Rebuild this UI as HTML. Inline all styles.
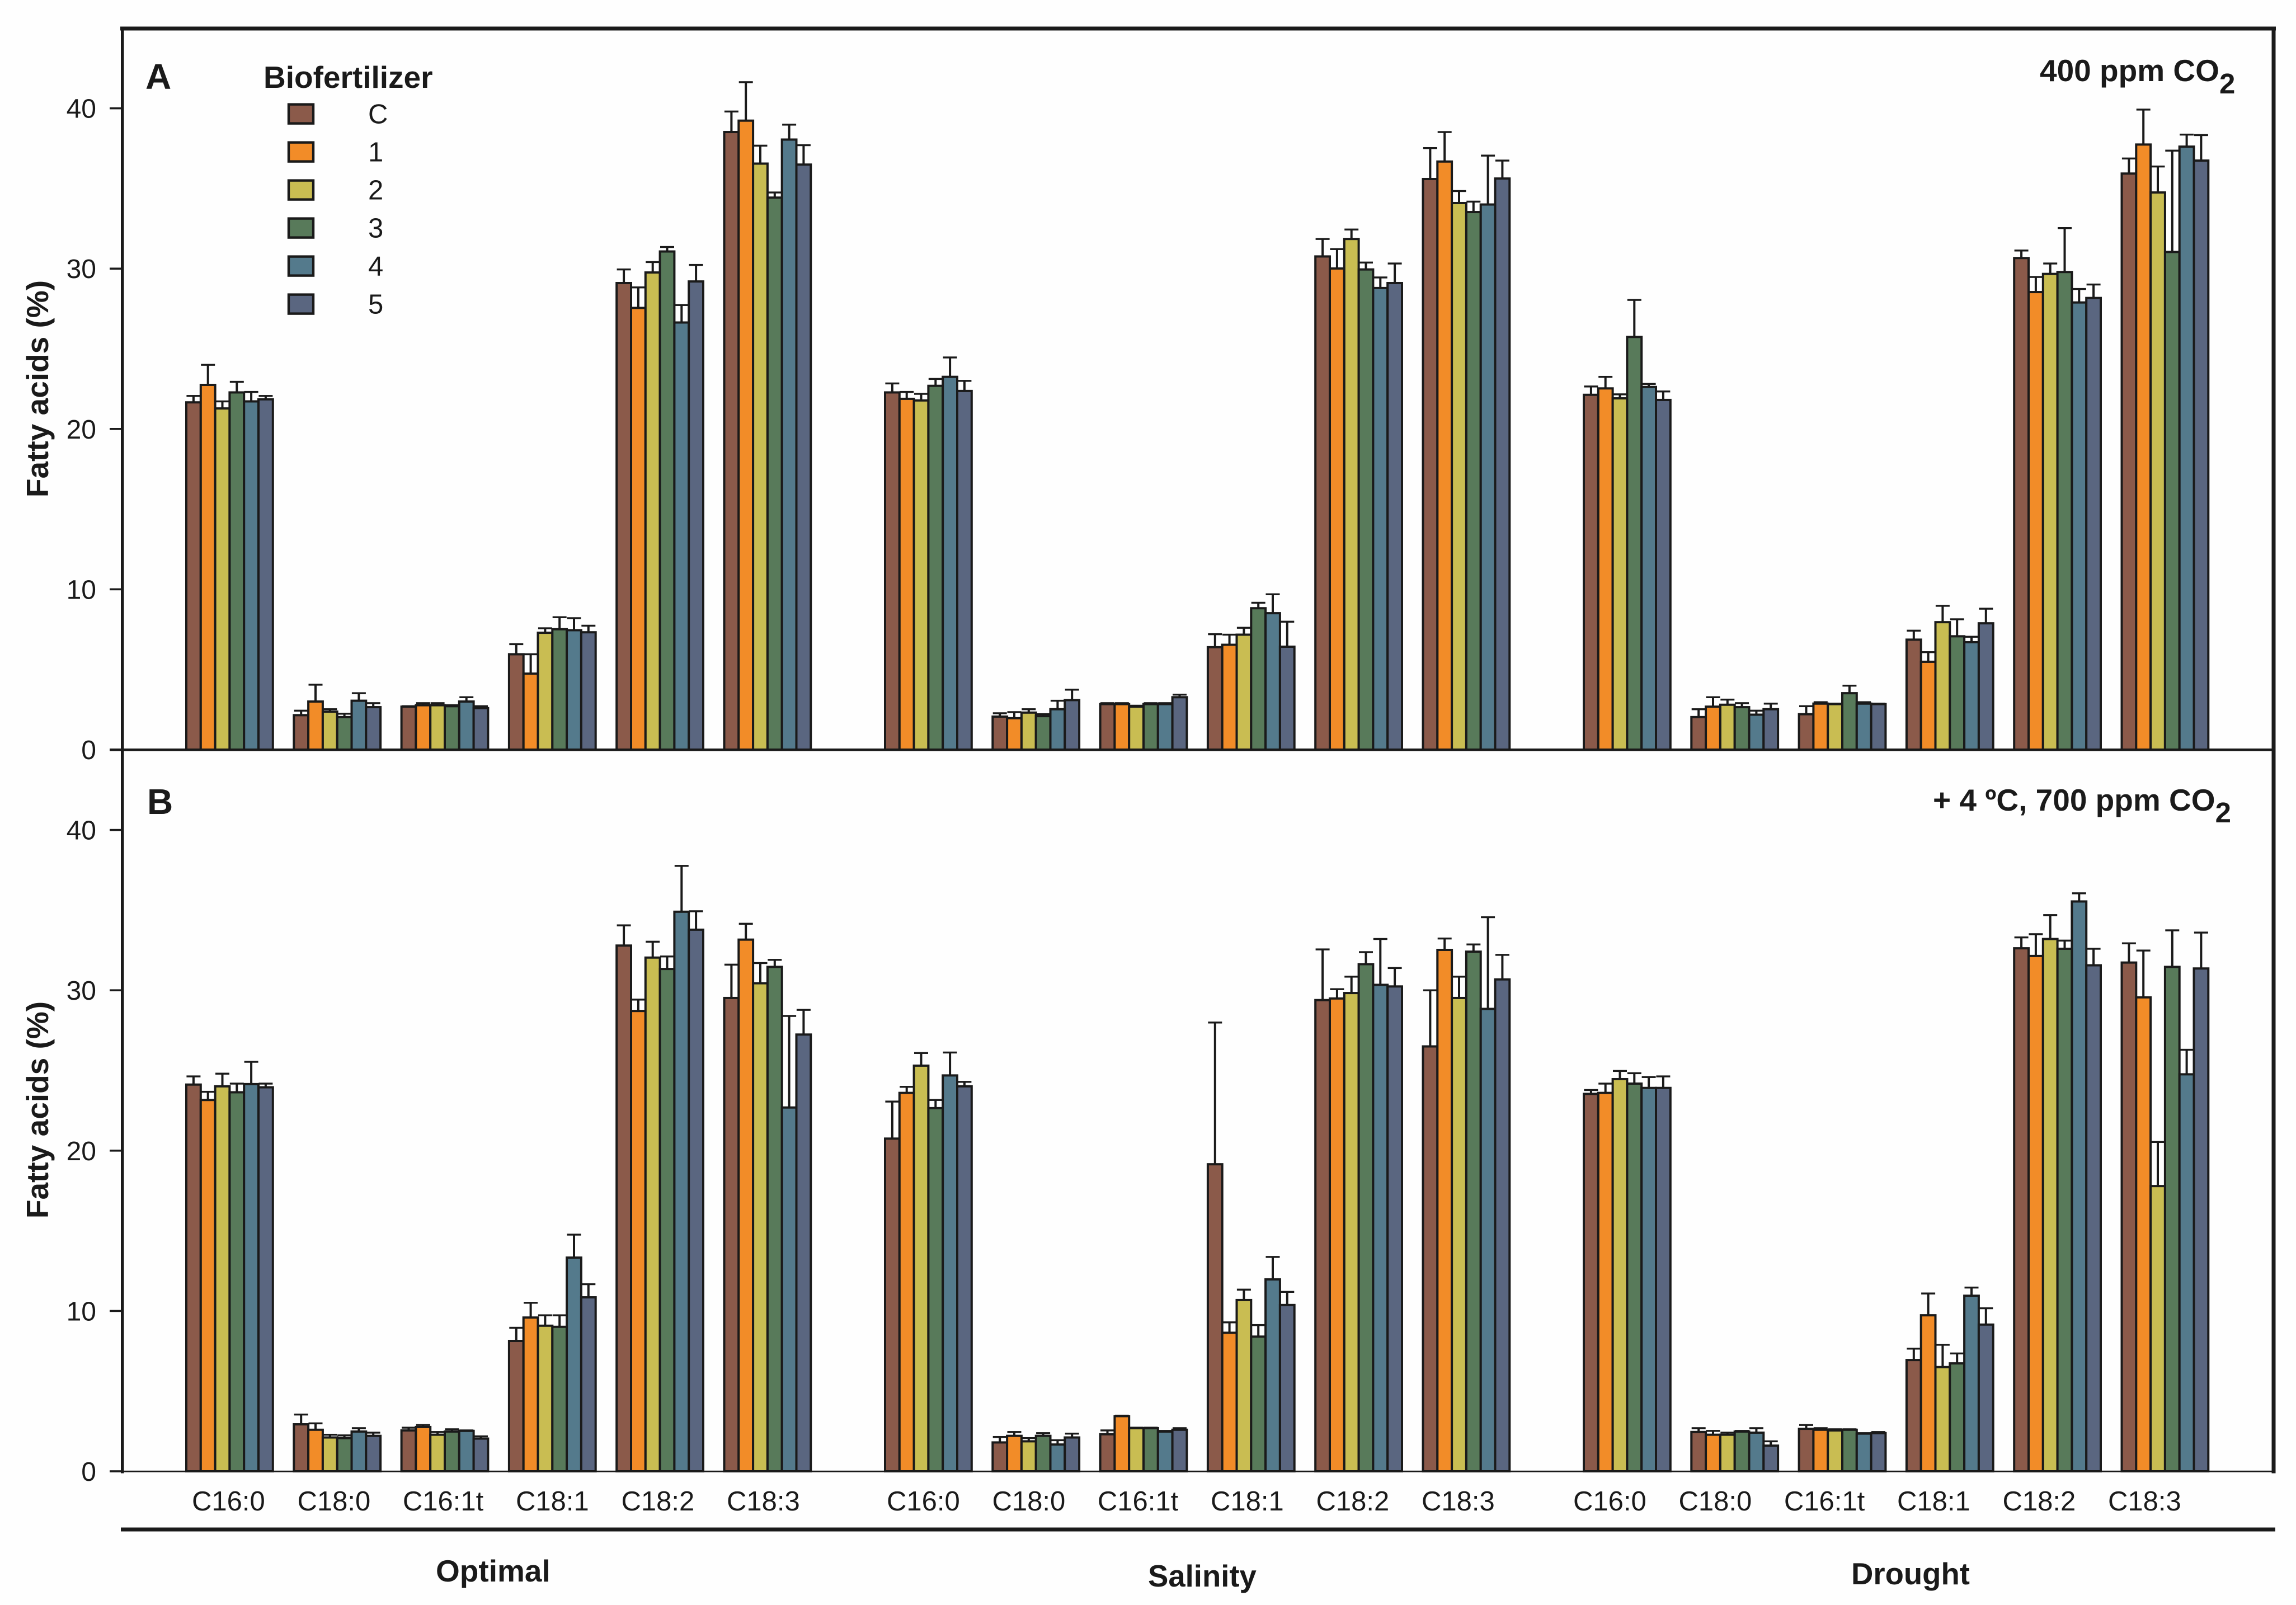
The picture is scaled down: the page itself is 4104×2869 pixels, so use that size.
<!DOCTYPE html>
<html lang="en">
<head>
<meta charset="utf-8">
<title>Fatty acids by biofertilizer</title>
<style>
html,body{margin:0;padding:0;background:#fefefe;}
svg{display:block;}
text{font-family:"Liberation Sans",Arial,sans-serif;fill:#1a1a1a;}
.b{font-weight:bold;}
</style>
</head>
<body>
<svg id="chart" xmlns="http://www.w3.org/2000/svg" width="4104" height="2869" viewBox="0 0 4104 2869">
  <rect x="0" y="0" width="4104" height="2869" fill="#fefefe"/>
  <g id="panelA"></g>
  <g id="panelB"></g>
  <g id="frame">
    <rect x="215" y="47.5" width="3853" height="7" fill="#1a1a1a"/>
    <rect x="216" y="47.5" width="5.5" height="2586" fill="#1a1a1a"/>
    <rect x="4060.5" y="47.5" width="7" height="2586" fill="#1a1a1a"/>
    <rect x="196" y="1338" width="3868" height="4.5" fill="#1a1a1a"/>
    <rect x="196" y="2628.8" width="3868" height="2.8" fill="#1a1a1a"/>
    <rect x="216" y="2730.5" width="3851" height="7" fill="#1a1a1a"/>
  </g>
  <text class="b" x="260" y="159" font-size="64">A</text>
  <text class="b" x="263" y="1455" font-size="64">B</text>
  <text class="b" x="3646" y="145" font-size="55">400 ppm CO<tspan font-size="51" dy="22">2</tspan></text>
  <text class="b" x="3455" y="1449" font-size="55">+ 4 ºC, 700 ppm CO<tspan font-size="51" dy="21">2</tspan></text>
  <text class="b" font-size="55" text-anchor="middle" transform="translate(86,695) rotate(-90)">Fatty acids (%)</text>
  <text class="b" font-size="55" text-anchor="middle" transform="translate(86,1984) rotate(-90)">Fatty acids (%)</text>
  <text class="b" x="779" y="2827" font-size="55">Optimal</text>
  <text class="b" x="2052" y="2836" font-size="54.5">Salinity</text>
  <text class="b" x="3309" y="2832" font-size="54.5">Drought</text>
  <g id="legend">
    <text class="b" x="471" y="157" font-size="55">Biofertilizer</text>
  </g>
  <g id="xlabels"></g>
</svg>
<script>
var fattyAcids = ['C16:0','C18:0','C16:1t','C18:1','C18:2','C18:3'];
var biofertilizers = ['C','1','2','3','4','5'];
var sections = ['optimal','salinity','drought'];
var yTicks = [0,10,20,30,40];
var barColors = ['#8b5a4a','#f28c28','#c9bd52','#587a5a','#547a8c','#5a6680'];

/* Panel A: 400 ppm CO2 — means, one row per fatty acid */
var aOptimalMeans = [
  [21.66,22.75,21.28,22.28,21.72,21.85],
  [2.15,3.0,2.37,2.03,3.05,2.65],
  [2.68,2.77,2.77,2.71,3.0,2.59],
  [5.95,4.74,7.29,7.51,7.45,7.32],
  [29.1,27.55,29.76,31.07,26.64,29.2],
  [38.52,39.23,36.55,34.43,38.05,36.49]
];
var aOptimalUpper = [
  [22.06,24.0,21.72,22.94,22.31,22.06],
  [2.43,4.05,2.52,2.24,3.52,2.9],
  [2.71,2.9,2.9,2.77,3.27,2.71],
  [6.58,5.95,7.57,8.26,8.2,7.73],
  [29.95,28.83,30.41,31.35,27.73,30.23],
  [39.8,41.63,37.67,34.75,38.98,37.7]
];
var aSalinityMeans = [
  [22.28,21.88,21.78,22.69,23.25,22.37],
  [2.06,1.96,2.31,2.09,2.52,3.09],
  [2.84,2.84,2.68,2.84,2.84,3.27],
  [6.39,6.54,7.17,8.82,8.51,6.42],
  [30.76,30.01,31.85,29.95,28.79,29.1],
  [35.59,36.68,34.09,33.53,34.0,35.62]
];
var aSalinityUpper = [
  [22.84,22.31,22.19,23.12,24.46,23.0],
  [2.27,2.34,2.52,2.21,3.05,3.74],
  [2.9,2.9,2.74,2.9,2.9,3.43],
  [7.2,7.17,7.6,9.16,9.69,7.98],
  [31.85,31.22,32.44,30.38,29.45,30.32],
  [37.52,38.52,34.84,34.18,37.05,36.74]
];
var aDroughtMeans = [
  [22.13,22.53,21.91,25.74,22.62,21.81],
  [2.03,2.68,2.8,2.65,2.18,2.52],
  [2.21,2.87,2.84,3.52,2.87,2.84],
  [6.86,5.48,7.95,7.07,6.7,7.88],
  [30.66,28.54,29.67,29.79,27.89,28.17],
  [35.93,37.74,34.75,31.04,37.61,36.74]
];
var aDroughtUpper = [
  [22.65,23.25,22.16,28.05,22.81,22.34],
  [2.52,3.27,3.12,2.9,2.43,2.87],
  [2.71,2.96,2.87,3.99,2.96,2.87],
  [7.42,6.08,8.97,8.13,7.04,8.79],
  [31.13,29.48,30.32,32.53,28.73,29.01],
  [36.87,39.92,36.37,37.36,38.36,38.33]
];

/* Panel B: +4 C, 700 ppm CO2 */
var bOptimalMeans = [
  [24.12,23.16,24.01,23.64,24.15,23.95],
  [2.93,2.59,2.11,2.07,2.48,2.21],
  [2.55,2.76,2.28,2.48,2.52,2.04],
  [8.13,9.59,9.08,9.01,13.33,10.85],
  [32.79,28.71,32.04,31.33,34.9,33.78],
  [29.52,33.16,30.44,31.46,22.69,27.24]
];
var bOptimalUpper = [
  [24.63,23.67,24.8,24.18,25.54,24.18],
  [3.54,2.99,2.28,2.24,2.69,2.41],
  [2.72,2.89,2.45,2.62,2.55,2.18],
  [8.95,10.51,9.73,9.73,14.76,11.67],
  [34.05,29.42,33.03,32.11,37.76,34.93],
  [31.6,34.15,31.7,31.9,28.4,28.78]
];
var bSalinityMeans = [
  [20.75,23.6,25.3,22.65,24.69,24.01],
  [1.8,2.21,1.87,2.21,1.67,2.11],
  [2.31,3.44,2.69,2.69,2.48,2.59],
  [19.15,8.64,10.68,8.4,11.97,10.37],
  [29.39,29.49,29.83,31.63,30.34,30.24],
  [26.5,32.52,29.52,32.41,28.84,30.68]
];
var bSalinityUpper = [
  [23.06,23.98,26.09,23.16,26.12,24.29],
  [2.14,2.45,2.07,2.38,1.94,2.35],
  [2.55,3.47,2.72,2.72,2.52,2.69],
  [27.99,9.29,11.33,9.12,13.37,11.19],
  [32.55,30.07,30.85,32.38,33.2,31.39],
  [30.0,33.23,30.85,32.86,34.56,32.21]
];
var bDroughtMeans = [
  [23.54,23.6,24.46,24.18,23.91,23.91],
  [2.45,2.28,2.28,2.48,2.41,1.6],
  [2.65,2.59,2.55,2.59,2.35,2.38],
  [6.94,9.73,6.5,6.73,10.95,9.15],
  [32.62,32.14,33.2,32.59,35.54,31.56],
  [31.73,29.56,17.79,31.46,24.76,31.36]
];
var bDroughtUpper = [
  [23.78,24.18,24.97,24.83,24.59,24.63],
  [2.69,2.52,2.41,2.52,2.69,1.87],
  [2.89,2.69,2.62,2.62,2.38,2.45],
  [7.65,11.09,7.89,7.35,11.46,10.17],
  [33.3,33.5,34.69,33.1,36.05,32.59],
  [32.93,32.48,20.54,33.74,26.29,33.6]
];

var NS = 'http://www.w3.org/2000/svg';
var INK = '#1a1a1a';
var PX_PER_UNIT = 28.66;
var BAR_W = 25.8;
var GROUP_STEP = 192.3;

function mk(tag, attrs, parent) {
  var el = document.createElementNS(NS, tag);
  for (var k in attrs) { el.setAttribute(k, attrs[k]); }
  parent.appendChild(el);
  return el;
}
function sectionStart(s) { return 333 + s * 1249; }
function xScale(s, c, i) { return sectionStart(s) + c * GROUP_STEP + i * BAR_W; }
function yScale(base, v) { return base - v * PX_PER_UNIT; }

function drawAxis(parent, base, panelName) {
  yTicks.forEach(function (t) {
    var y = yScale(base, t);
    var tick = mk('rect', {x: 196, y: y - 1.8, width: 22, height: 3.6, fill: INK}, parent);
    
    
    var lab = mk('text', {x: 172, y: y + 17, 'font-size': 48, 'text-anchor': 'end'}, parent);
    
    
    lab.textContent = String(t);
  });
}

function drawSection(parent, base, s, means, upper) {
  means.forEach(function (row, c) {
    var g = mk('g', {}, parent);
    
    
    row.forEach(function (v, i) {
      var x = xScale(s, c, i);
      var cx = x + BAR_W / 2;
      var yTop = yScale(base, v);
      var yCap = yScale(base, upper[c][i]);
      var stem = mk('rect', {x: cx - 2, y: yCap, width: 4, height: yTop - yCap, fill: INK}, g);
      
      
      var cap = mk('rect', {x: cx - 12.5, y: yCap - 1.7, width: 25, height: 3.4, fill: INK}, g);
      
      
      var bar = mk('rect', {x: x, y: yTop, width: BAR_W, height: base - yTop, fill: barColors[i], stroke: INK, 'stroke-width': 4}, g);
      
      
    });
  });
}

var pA = document.getElementById('panelA');
var pB = document.getElementById('panelB');
var baseA = 1340;
var baseB = 2630;
drawAxis(pA, baseA, 'a');
drawAxis(pB, baseB, 'b');
[aOptimalMeans, aSalinityMeans, aDroughtMeans].forEach(function (m, s) {
  drawSection(pA, baseA, s, m, [aOptimalUpper, aSalinityUpper, aDroughtUpper][s]);
});
[bOptimalMeans, bSalinityMeans, bDroughtMeans].forEach(function (m, s) {
  drawSection(pB, baseB, s, m, [bOptimalUpper, bSalinityUpper, bDroughtUpper][s]);
});

/* legend */
var legend = document.getElementById('legend');
biofertilizers.forEach(function (name, i) {
  var cy = 203.6 + i * 68;
  var sw = mk('rect', {x: 516, y: cy - 17, width: 44, height: 34, fill: barColors[i], stroke: INK, 'stroke-width': 4.4}, legend);
  
  
  var tx = mk('text', {x: 658, y: cy + 17, 'font-size': 49}, legend);
  
  
  tx.textContent = name;
});

/* category labels flow left to right from the start of each section */
var xl = document.getElementById('xlabels');
var labelStarts = [343, 1585, 2812];
labelStarts.forEach(function (start) {
  var cursor = start;
  fattyAcids.forEach(function (name) {
    var t = mk('text', {x: cursor, y: 2700, 'font-size': 49}, xl);
    
    
    t.textContent = name;
    cursor += t.getComputedTextLength() + 57.7;
  });
});
</script>
</body>
</html>
